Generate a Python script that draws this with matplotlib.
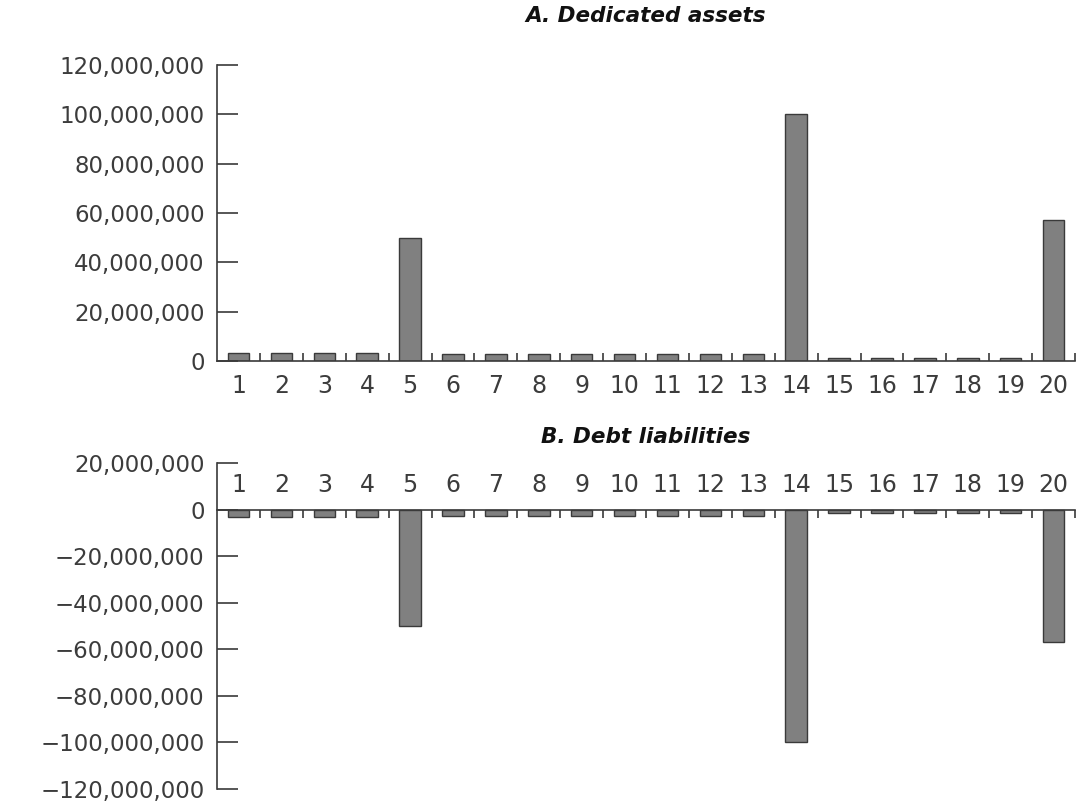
import matplotlib
matplotlib.use("Agg")
import matplotlib.pyplot as plt
from matplotlib.ticker import FuncFormatter, FixedLocator

periods = list(range(1, 21))
dedicated_assets = [3200000, 3200000, 3200000, 3200000, 50000000,
                    2900000, 2900000, 2900000, 2900000, 2900000,
                    2900000, 2900000, 2900000, 100000000, 1300000,
                    1300000, 1300000, 1300000, 1300000, 57000000]
debt_liabilities = [-3200000, -3200000, -3200000, -3200000, -50000000,
                    -2900000, -2900000, -2900000, -2900000, -2900000,
                    -2900000, -2900000, -2900000, -100000000, -1300000,
                    -1300000, -1300000, -1300000, -1300000, -57000000]
assets_ticks = [0, 20000000, 40000000, 60000000, 80000000, 100000000, 120000000]
debt_ticks = [-120000000, -100000000, -80000000, -60000000, -40000000,
              -20000000, 0, 20000000]

BAR = '#808080'
EDGE = '#3a3a3a'
INK = '#3c3c3c'


def money(v, pos=None):
    s = '{:,.0f}'.format(abs(v))
    return '\u2212' + s if v < 0 else s


def style(ax, yticks):
    ax.set_xlim(-0.5, len(periods) - 0.5)
    ax.set_ylim(yticks[0], yticks[-1])
    ax.set_yticks(yticks)
    ax.yaxis.set_major_formatter(FuncFormatter(money))
    ax.set_xticks(range(len(periods)))
    ax.set_xticklabels([str(p) for p in periods])
    ax.xaxis.set_minor_locator(FixedLocator([i + 0.5 for i in range(len(periods))]))
    ax.tick_params(axis='y', direction='in', length=15, width=1.2, color=EDGE,
                   labelsize=16.5, labelcolor=INK, pad=9)
    ax.tick_params(axis='x', which='major', length=0, labelsize=17,
                   labelcolor=INK, pad=9)
    ax.tick_params(axis='x', which='minor', direction='in', length=6,
                   width=1.2, color=EDGE)
    for side in ['top', 'right', 'bottom']:
        ax.spines[side].set_visible(False)
    ax.spines['left'].set_color(EDGE)
    ax.spines['left'].set_linewidth(1.2)


fig = plt.figure(figsize=(10.76, 8.01), dpi=100)

# A. dedicated assets
ax1 = fig.add_axes([0.2017, 0.5493, 0.7974, 0.3695])
x = range(len(periods))
ax1.bar(x, dedicated_assets, width=0.5, color=BAR, edgecolor=EDGE, linewidth=1)
style(ax1, assets_ticks)
ax1.spines['bottom'].set_visible(True)
ax1.spines['bottom'].set_color(EDGE)
ax1.spines['bottom'].set_linewidth(1.2)

# B. debt liabilities, category labels sit above the zero line
ax2 = fig.add_axes([0.2017, 0.0150, 0.7974, 0.4070])
ax2.bar(x, debt_liabilities, width=0.5, color=BAR, edgecolor=EDGE, linewidth=1)
style(ax2, debt_ticks)
ax2.xaxis.set_ticks_position('top')
ax2.xaxis.set_label_position('top')
ax2.spines['top'].set_visible(True)
ax2.spines['top'].set_position(('data', 0))
ax2.spines['top'].set_color(EDGE)
ax2.spines['top'].set_linewidth(1.2)
ax2.tick_params(axis='x', which='both', top=True, bottom=False,
                labeltop=True, labelbottom=False)

fig.text(0.600, 0.980, 'A. Dedicated assets', ha='center', va='center',
         fontsize=15.5, fontweight='bold', fontstyle='italic', color='#111111')
fig.text(0.600, 0.4544, 'B. Debt liabilities', ha='center', va='center',
         fontsize=15.5, fontweight='bold', fontstyle='italic', color='#111111')

fig.savefig('out.png', dpi=100)
